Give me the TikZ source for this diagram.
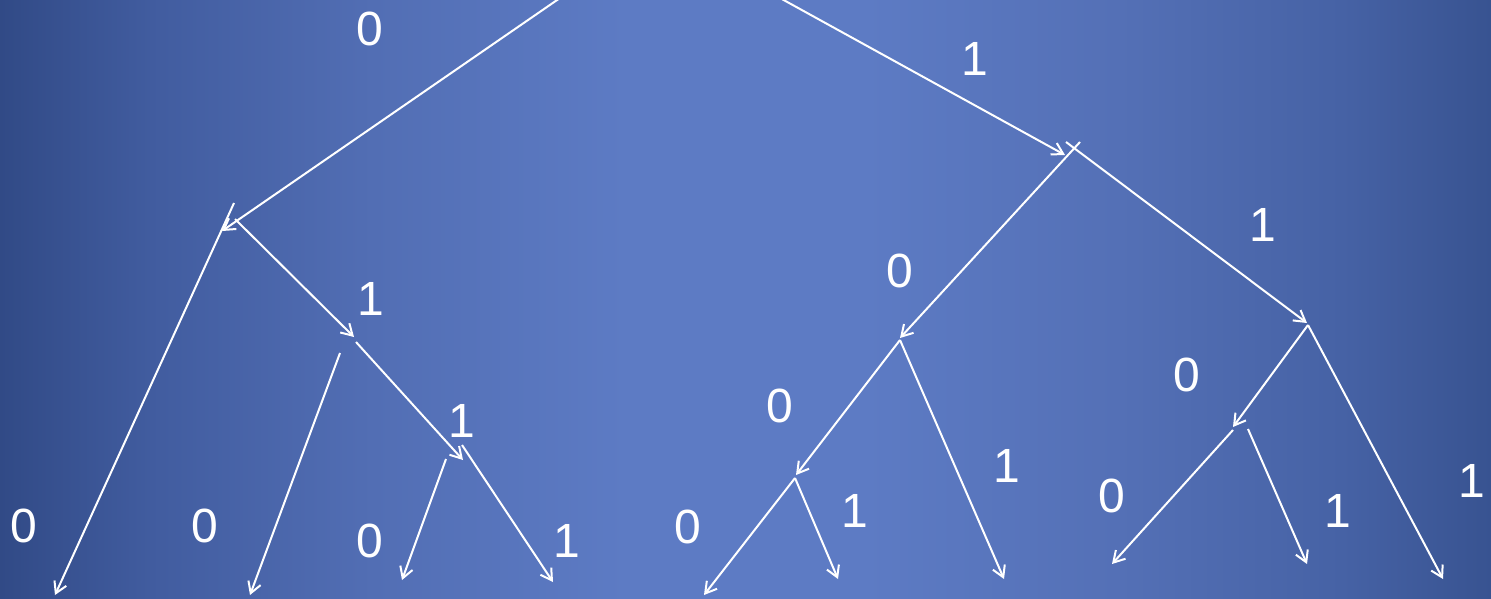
\documentclass[tikz,border=0pt]{standalone}
\usepackage{fontspec}
\setmainfont{Liberation Sans}
\usetikzlibrary{arrows.meta}
\definecolor{cA}{RGB}{49,74,134}
\definecolor{cB}{RGB}{65,92,159}
\definecolor{cC}{RGB}{82,110,180}
\definecolor{cD}{RGB}{93,123,196}
\definecolor{cE}{RGB}{84,112,182}
\definecolor{cF}{RGB}{70,98,165}
\definecolor{cG}{RGB}{56,83,145}
% the path spans 25bp..75bp of the shading
\pgfdeclarehorizontalshading{bgshade}{100bp}{color(0bp)=(cA); color(25bp)=(cA); color(30bp)=(cB); color(37.5bp)=(cC); color(46bp)=(cD); color(54bp)=(cD); color(62.5bp)=(cE); color(70bp)=(cF); color(75bp)=(cG); color(100bp)=(cG)}
\tikzset{
  edge/.style={draw=white, line width=2pt, -{Straight Barb[length=11pt,width=13pt,line width=2pt]}},
  bit/.style={text=white, font=\fontsize{48}{54}\selectfont, inner sep=0pt}
}
\begin{document}
\begin{tikzpicture}[x=1pt,y=-1pt]
\useasboundingbox (0,0) rectangle (1491,598);
\shade[shading=bgshade] (0,0) rectangle (1491,598);
% coordinates
\coordinate (r0) at (560,-2);
\coordinate (r1) at (780,-2);
\coordinate (a) at (222,231);
\coordinate (b) at (1065,155);
\coordinate (b0s) at (1080,142);
\coordinate (b1s) at (1066,142);
\coordinate (c) at (900,338);
\coordinate (d) at (1307,323);
\coordinate (a0s) at (234,203);
\coordinate (a0e) at (55,595);
\coordinate (a1s) at (235,219);
\coordinate (e) at (354,337);
\coordinate (e0s) at (340,353);
\coordinate (e0e) at (250,595);
\coordinate (e1s) at (356,342);
\coordinate (f) at (463,460);
\coordinate (f0s) at (446,459);
\coordinate (f0e) at (402,580);
\coordinate (f1s) at (462,445);
\coordinate (f1e) at (553,582);
\coordinate (cs) at (900,340);
\coordinate (g) at (796,475);
\coordinate (gs) at (795,478);
\coordinate (g0e) at (704,595);
\coordinate (g1e) at (838,579);
\coordinate (c1e) at (1004,579);
\coordinate (ds) at (1308,325);
\coordinate (h) at (1233,427);
\coordinate (hs) at (1233,430);
\coordinate (h0e) at (1112,564);
\coordinate (h1s) at (1248,429);
\coordinate (h1e) at (1307,564);
\coordinate (d1e) at (1443,579);
% edges
\draw[edge] (r0) -- (a);
\draw[edge] (r1) -- (b);
\draw[edge] (b0s) -- (c);
\draw[edge] (b1s) -- (d);
\draw[edge] (a0s) -- (a0e);
\draw[edge] (a1s) -- (e);
\draw[edge] (e0s) -- (e0e);
\draw[edge] (e1s) -- (f);
\draw[edge] (f0s) -- (f0e);
\draw[edge] (f1s) -- (f1e);
\draw[edge] (cs) -- (g);
\draw[edge] (gs) -- (g0e);
\draw[edge] (gs) -- (g1e);
\draw[edge] (cs) -- (c1e);
\draw[edge] (ds) -- (h);
\draw[edge] (hs) -- (h0e);
\draw[edge] (h1s) -- (h1e);
\draw[edge] (ds) -- (d1e);
% labels
\node[bit] (l1) at (370,29) {0};
\node[bit] (l2) at (975,59) {1};
\node[bit] (l3) at (1263,225) {1};
\node[bit] (l4) at (900,271) {0};
\node[bit] (l5) at (371,299) {1};
\node[bit] (l6) at (1187,375) {0};
\node[bit] (l7) at (780,406) {0};
\node[bit] (l8) at (462,421) {1};
\node[bit] (l9) at (1007,466) {1};
\node[bit] (l10) at (1112,496) {0};
\node[bit] (l11) at (1472,481) {1};
\node[bit] (l12) at (24,526) {0};
\node[bit] (l13) at (205,526) {0};
\node[bit] (l14) at (370,541) {0};
\node[bit] (l15) at (567,541) {1};
\node[bit] (l16) at (688,527) {0};
\node[bit] (l17) at (855,511) {1};
\node[bit] (l18) at (1338,511) {1};
\end{tikzpicture}
\end{document}
